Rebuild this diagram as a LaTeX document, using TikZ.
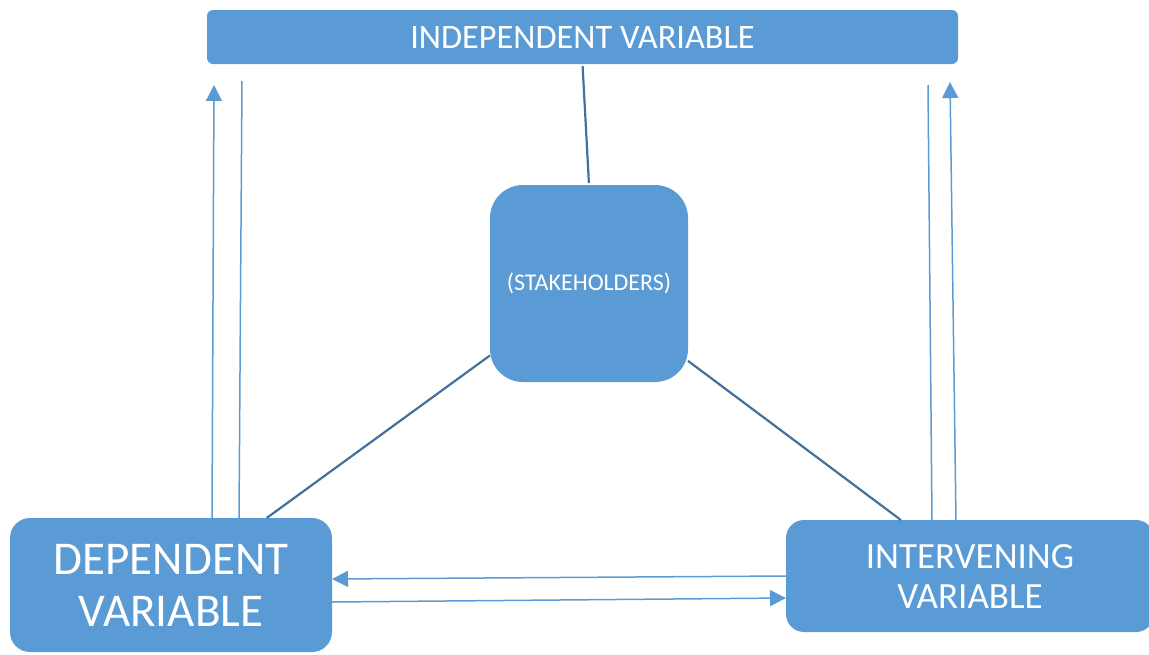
\documentclass[tikz,border=0pt]{standalone}
\usepackage{fontspec}
\setmainfont{Carlito}
\usetikzlibrary{arrows.meta,calc}
\definecolor{boxblue}{HTML}{5B9BD5}
\definecolor{darkline}{HTML}{41719C}
\tikzset{
  box/.style={fill=boxblue, text=white, inner sep=0pt, outer sep=0pt, align=center},
  darkconn/.style={draw=darkline, line width=2.2pt},
  lightconn/.style={draw=boxblue, line width=1.5pt},
  arrconn/.style={lightconn, -{Triangle[length=16pt,width=16pt]}}
}
\begin{document}
\begin{tikzpicture}[x=1pt,y=-1pt]
\useasboundingbox (0,0) rectangle (1149,654);
% nodes
\node[box, rounded corners=6pt, minimum width=751pt, minimum height=54pt,
      font=\fontsize{34.3}{40}\selectfont] (top) at (582.5,37) {INDEPENDENT VARIABLE};
\node[box, rounded corners=33pt, minimum width=198pt, minimum height=197pt,
      font=\fontsize{24}{28}\selectfont] (stake) at (589,283.5) {(STAKEHOLDERS)};
\node[box, rounded corners=20pt, minimum width=322pt, minimum height=134pt,
      font=\fontsize{47}{52}\selectfont] (dep) at (171,585) {DEPENDENT\\VARIABLE};
\node[box, rounded corners=18pt, minimum width=368pt, minimum height=112pt,
      font=\fontsize{37}{40}\selectfont] (int) at (970,576) {INTERVENING\\VARIABLE};
% free ends
\coordinate (aL) at (214,85);
\coordinate (bL) at (242,81);
\coordinate (bR) at (928,85);
\coordinate (aR) at (950,82);
% dark connectors
\draw[darkconn, shorten <=2pt, shorten >=2pt] (top.south) -- (stake.north);
\draw[darkconn] (stake.216) -- (dep.35);
\draw[darkconn] (stake.322) -- (int.141);
% vertical light connectors
\draw[arrconn] ([xshift=202pt]dep.north west) -- (aL);
\draw[lightconn] ([xshift=229pt]dep.north west) -- (bL);
\draw[lightconn] ([xshift=146pt]int.north west) -- (bR);
\draw[arrconn] ([xshift=170pt]int.north west) -- (aR);
% horizontal arrows
\draw[arrconn] (int.west) -- ([yshift=6pt]dep.east);
\draw[arrconn] ([yshift=-17pt]dep.east) -- ([yshift=-22pt]int.west);
\end{tikzpicture}
\end{document}
